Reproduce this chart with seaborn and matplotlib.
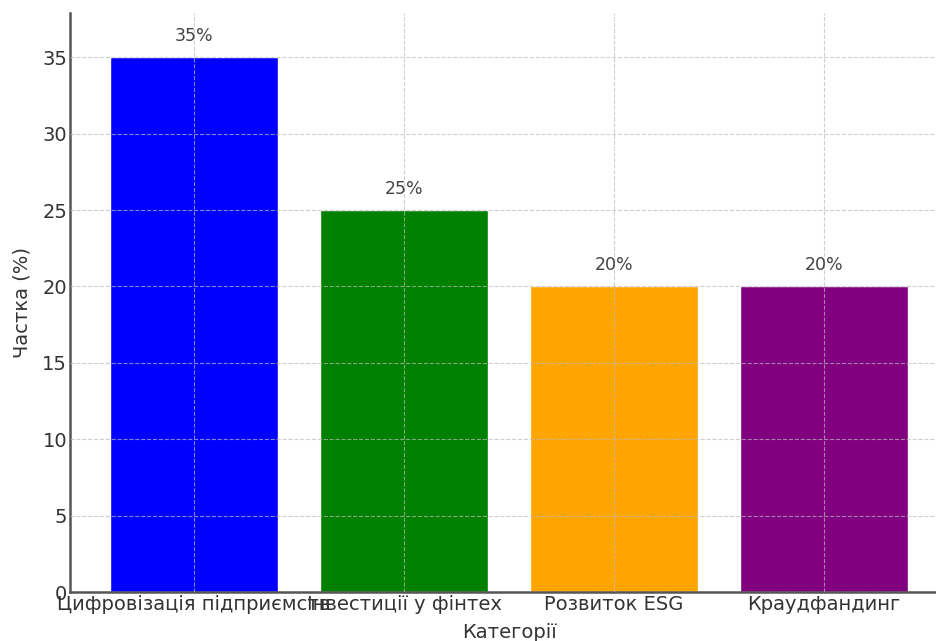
import matplotlib
matplotlib.use("Agg")
import matplotlib.pyplot as plt
import seaborn as sns
import pandas as pd

categories = ['Цифровізація підприємств', 'Інвестиції у фінтех', 'Розвиток ESG', 'Краудфандинг']
shares = [35, 25, 20, 20]
bar_colors = ['blue', 'green', 'orange', 'purple']

df = pd.DataFrame({'Категорії': categories, 'Частка (%)': shares})

sns.set_style("white")
plt.rcParams['font.family'] = ['DejaVu Sans']

fig = plt.figure(figsize=(9.37, 6.41), dpi=100)
ax = fig.add_axes([70 / 937, 49 / 641, 878 / 937, 579 / 641])

sns.barplot(data=df, x='Категорії', y='Частка (%)', hue='Категорії',
            palette=bar_colors, legend=False, saturation=1, width=0.8, ax=ax)

# percent labels above the bars
for i, v in enumerate(shares):
    ax.text(i, v + 0.8, f'{v}%', ha='center', va='bottom', fontsize=12.5, color='#444444')

ax.set_xlim(-0.59, 3.59)
ax.set_ylim(0, 37.9)
ax.set_yticks([0, 5, 10, 15, 20, 25, 30, 35])
ax.grid(True, linestyle='--', linewidth=0.8, color='#bbbbbb', alpha=0.7)
ax.set_axisbelow(False)

ax.set_xlabel('Категорії', fontsize=14, color='#333333', labelpad=7)
ax.set_ylabel('Частка (%)', fontsize=14, color='#333333', labelpad=8)
ax.tick_params(axis='both', labelsize=14, colors='#333333', direction='in', length=5,
               width=1, pad=2)
for side in ['top', 'right']:
    ax.spines[side].set_visible(False)
for side in ['left', 'bottom']:
    ax.spines[side].set_color('#555555')
    ax.spines[side].set_linewidth(1.8)

fig.savefig('out.png', dpi=100)
